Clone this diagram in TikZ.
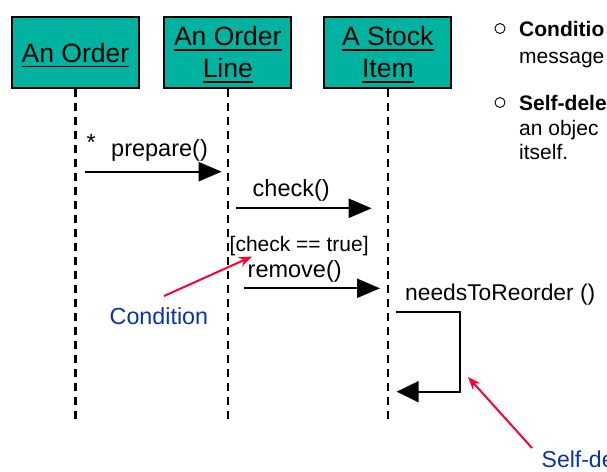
\documentclass[tikz,border=0pt]{standalone}
\usepackage{fontspec}
\setmainfont{Liberation Sans}
\usetikzlibrary{arrows.meta}
\definecolor{objteal}{RGB}{0,179,161}
\definecolor{noteblue}{RGB}{10,50,170}
\definecolor{notered}{RGB}{255,0,51}

\begin{document}
\begin{tikzpicture}[x=1pt,y=-1pt,
  objbox/.style={draw=black, line width=2.2pt, fill=objteal, minimum width=127pt,
                 minimum height=71.3pt, inner sep=0pt},
  objname/.style={anchor=base, inner sep=0pt, font=\fontsize{26.5}{30}\selectfont},
  underbar/.style={line width=1.7pt},
  lifeline/.style={line width=2.5pt, dash pattern=on 8pt off 6pt},
  msgtext/.style={anchor=base west, inner sep=0pt, font=\fontsize{23.5}{28}\selectfont},
  guardtext/.style={anchor=base west, inner sep=0pt, font=\fontsize{21}{25}\selectfont},
  msg/.style={line width=2.3pt, -{Triangle[length=23pt,width=19pt]}},
  selfmsg/.style={line width=2pt, -{Triangle[length=22pt,width=21pt]}},
  note/.style={anchor=base west, inner sep=0pt, text=noteblue, font=\fontsize{23.3}{28}\selectfont},
  pointer/.style={line width=2pt, draw=notered, -{Stealth[length=13pt,width=10pt]}},
  bullettext/.style={anchor=base west, inner sep=0pt, font=\fontsize{21}{25}\selectfont},
  bulletmark/.style={circle, draw, line width=0.9pt, minimum size=10pt, inner sep=0pt},
]
\path[use as bounding box, clip] (0,0) rectangle (607,471);

% objects
\node[objbox] (order) at (75.5,52.35) {};
\node[objbox] (line)  at (227.8,52.35) {};
\node[objbox] (stock) at (387.8,52.35) {};

\node[objname] (orderT)  at (75.5,62)   {An Order};
\node[objname] (lineT1)  at (227.8,45.7) {An Order};
\node[objname] (lineT2)  at (227.8,77.7) {Line};
\node[objname] (stockT1) at (387.8,45.7) {A Stock};
\node[objname] (stockT2) at (387.8,77.7) {Item};
\foreach \t in {orderT,lineT1,lineT2,stockT1,stockT2}
  \draw[underbar] ([yshift=-4.4pt]\t.base west) -- ([yshift=-4.4pt]\t.base east);

% lifelines
\coordinate (orderEnd) at (75.5,420);
\coordinate (lineEnd)  at (227.8,420);
\coordinate (stockEnd) at (387.8,420);
\draw[lifeline] (order.south) -- (orderEnd);
\draw[lifeline] (line.south)  -- (lineEnd);
\draw[lifeline] (stock.south) -- (stockEnd);

% prepare()
\node[msgtext] (star) at (86.5,150.5) {*};
\node[msgtext] (prepT) at (111,156) {prepare()};
\coordinate (prepA) at (85,171.7);
\coordinate (prepB) at (221.7,171.7);
\draw[msg] (prepA) -- (prepB);

% check()
\node[msgtext] (checkT) at (252.5,196.7) {check()};
\coordinate (checkA) at (236,208.3);
\coordinate (checkB) at (371.7,208.3);
\draw[msg] (checkA) -- (checkB);

% [check == true] remove()
\node[guardtext] (guardT) at (229.5,251) {[check == true]};
\node[msgtext] (removeT) at (247.5,277.3) {remove()};
\coordinate (removeA) at (244,288.3);
\coordinate (removeB) at (380,288.3);
\draw[msg] (removeA) -- (removeB);

% needsToReorder () self call
\node[msgtext, font=\fontsize{22.8}{27}\selectfont] (reorderT) at (405,300.7) {needsToReorder ()};
\coordinate (selfA) at (396,312.3);
\coordinate (selfB) at (460,312.3);
\coordinate (selfC) at (460,391.7);
\coordinate (selfD) at (396.7,391.7);
\draw[selfmsg] (selfA) -- (selfB) -- (selfC) -- (selfD);

% callouts
\node[note] (condN) at (109.5,324) {Condition};
\coordinate (condTail) at (164,296);
\coordinate (condTip)  at (252,256.5);
\draw[pointer] (condTail) -- (condTip);

\node[note, font=\fontsize{23}{28}\selectfont] (selfN) at (541.5,467.3) {Self-de};
\coordinate (selfTail) at (532,448);
\coordinate (selfTip)  at (468,377);
\draw[pointer] (selfTail) -- (selfTip);

% bullet notes
\node[bulletmark] (b1) at (500,28.5) {};
\node[bullettext] (b1a) at (519,36)   {\textbf{Conditio}};
\node[bullettext] (b1b) at (519,63.3) {message};
\node[bulletmark] (b2) at (500,102.5) {};
\node[bullettext] (b2a) at (519,110)   {\textbf{Self-dele}};
\node[bullettext] (b2b) at (519,135)   {an objec};
\node[bullettext] (b2c) at (519,159.3) {itself.};
\end{tikzpicture}
\end{document}
